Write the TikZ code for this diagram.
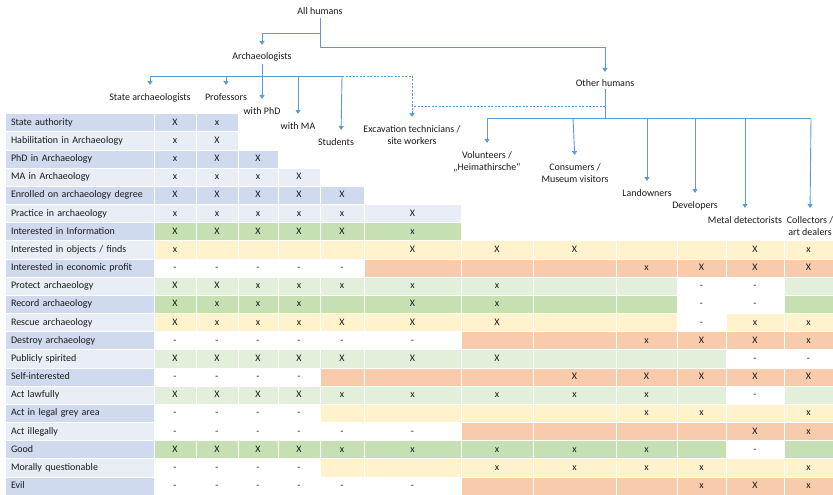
\documentclass[tikz,border=0pt]{standalone}
\usepackage{fontspec}
\setmainfont{Carlito}
\usetikzlibrary{arrows.meta}
\definecolor{lineblue}{HTML}{5B9BD5}
\definecolor{txt}{HTML}{1A1A1A}
\definecolor{bd}{HTML}{CFDAEE}
\definecolor{bl}{HTML}{E8EDF6}
\definecolor{gm}{HTML}{C6E0B4}
\definecolor{gl}{HTML}{E2EFDA}
\definecolor{yl}{HTML}{FFF2CC}
\definecolor{sa}{HTML}{F8CBAD}
\definecolor{wh}{HTML}{FFFFFF}
\begin{document}
\begin{tikzpicture}[x=1pt,y=-1pt,
  every node/.style={font=\fontsize{10}{12}\selectfont, text=txt},
  ln/.style={draw=lineblue, line width=0.9pt},
  arr/.style={ln, -{Triangle[length=4pt,width=5pt]}, shorten >=7pt},
  dsh/.style={dash pattern=on 2pt off 1.5pt},
  tn/.style={anchor=north, inner sep=1pt, align=center},
  cell/.style={draw=white, line width=0.8pt, inner sep=0pt, outer sep=0pt,
    minimum height=18.17pt, text height=7pt, text depth=2pt, anchor=center},
]
\useasboundingbox (0,0) rectangle (833,495);
\def\colx{{5,154,196,238,278,320,364,461,533,616,677,726,784,833}}
% ---------- table ----------
\foreach \r/\lab/\cells in {%
0/State authority/{bd/X,bd/x},%
1/Habilitation in Archaeology/{bl/x,bl/X},%
2/PhD in Archaeology/{bd/x,bd/X,bd/X},%
3/MA in Archaeology/{bl/x,bl/x,bl/x,bl/X},%
4/Enrolled on archaeology degree/{bd/X,bd/X,bd/X,bd/X,bd/X},%
5/Practice in archaeology/{bl/x,bl/x,bl/x,bl/x,bl/x,bl/X},%
6/Interested in Information/{gm/X,gm/X,gm/X,gm/X,gm/X,gm/x},%
7/{Interested in objects / finds}/{yl/x,yl/{},yl/{},yl/{},yl/{},yl/X,yl/X,yl/X,yl/{},yl/{},yl/X,yl/x},%
8/Interested in economic profit/{wh/-,wh/-,wh/-,wh/-,wh/-,sa/{},sa/{},sa/{},sa/x,sa/X,sa/X,sa/X},%
9/Protect archaeology/{gl/X,gl/X,gl/x,gl/x,gl/x,gl/x,gl/x,gl/{},gl/{},wh/-,wh/-,gl/{}},%
10/Record archaeology/{gm/X,gm/x,gm/x,gm/x,gm/{},gm/X,gm/x,gm/{},gm/{},wh/-,wh/-,gm/{}},%
11/Rescue archaeology/{yl/X,yl/x,yl/x,yl/x,yl/X,yl/X,yl/X,yl/{},yl/{},wh/-,yl/x,yl/x},%
12/Destroy archaeology/{wh/-,wh/-,wh/-,wh/-,wh/-,wh/-,sa/{},sa/{},sa/x,sa/X,sa/X,sa/x},%
13/Publicly spirited/{gl/X,gl/X,gl/X,gl/X,gl/X,gl/X,gl/X,gl/{},gl/{},gl/{},wh/-,wh/-},%
14/Self-interested/{wh/-,wh/-,wh/-,wh/-,sa/{},sa/{},sa/{},sa/X,sa/X,sa/X,sa/X,sa/X},%
15/Act lawfully/{gl/X,gl/X,gl/X,gl/X,gl/x,gl/x,gl/x,gl/x,gl/x,gl/{},wh/-,gl/{}},%
16/Act in legal grey area/{wh/-,wh/-,wh/-,wh/-,yl/{},yl/{},yl/{},yl/{},yl/x,yl/x,yl/{},yl/x},%
17/Act illegally/{wh/-,wh/-,wh/-,wh/-,wh/-,wh/-,sa/{},sa/{},sa/{},sa/{},sa/X,sa/x},%
18/Good/{gm/X,gm/X,gm/X,gm/X,gm/x,gm/x,gm/x,gm/x,gm/x,gm/{},wh/-,gm/{}},%
19/Morally questionable/{wh/-,wh/-,wh/-,wh/-,yl/{},yl/{},yl/x,yl/x,yl/x,yl/x,yl/{},yl/x},%
20/Evil/{wh/-,wh/-,wh/-,wh/-,wh/-,wh/-,sa/{},sa/{},sa/{},sa/x,sa/X,sa/x}}{%
  \pgfmathsetmacro\yc{113.6+(\r+0.5)*18.17}
  \pgfmathtruncatemacro\odd{mod(\r,2)}
  \ifnum\odd=0 \def\lf{bd}\else\def\lf{bl}\fi
  \node[cell, fill=\lf, minimum width=149pt, text width=137pt, inner xsep=6pt, align=left] (lab\r) at (79.5,\yc) {\lab};
  \foreach \cc/\txt [count=\c] in \cells {
    \pgfmathsetmacro\xa{\colx[\c]}
    \pgfmathsetmacro\xb{\colx[\c+1]}
    \pgfmathsetmacro\w{\xb-\xa}
    \node[cell, fill=\cc, minimum width=\w pt] (c\r-\c) at ({(\xa+\xb)/2},\yc) {\txt};
  }
}
% ---------- tree nodes ----------
\node[tn] (ah) at (320,6) {All humans};
\node[tn] (arch) at (262,51) {Archaeologists};
\node[tn] (oh) at (605,78) {Other humans};
\node[tn] (sta) at (150,92) {State archaeologists};
\node[tn] (prof) at (226,92) {Professors};
\node[tn] (phd) at (262,106) {with PhD};
\node[tn] (ma) at (298,121) {with MA};
\node[tn] (stu) at (336,137) {Students};
\node[tn] (exc) at (412,124) {Excavation technicians /\\site workers};
\node[tn] (vol) at (487,150) {Volunteers /\\„Heimathirsche“};
\node[tn] (con) at (575,162) {Consumers /\\Museum visitors};
\node[tn] (land) at (647,188) {Landowners};
\node[tn] (dev) at (695,200) {Developers};
\node[tn] (met) at (745,215) {Metal detectorists};
\node[tn] (coll) at (810,215) {Collectors /\\art dealers};
% ---------- junctions ----------
\coordinate (t1) at (320,33);
\coordinate (t2) at (320,47);
\coordinate (ab) at (262,76);
\coordinate (abL) at (150,76);
\coordinate (abP) at (226,76);
\coordinate (abM) at (298,76);
\coordinate (abR) at (342,76);
\coordinate (d1) at (605,106);
\coordinate (d2) at (412,106);
\coordinate (ob) at (605,118);
\coordinate (obL) at (487,118);
\coordinate (obC) at (573,118);
\coordinate (obD) at (695,118);
\coordinate (obR) at (811,118);
% ---------- connectors ----------
\draw[arr, shorten <=3pt, shorten >=6pt] (ah.south) -- (t2) -| (oh.north);
\draw[arr, shorten >=6pt] (t1) -| (arch.north);
\draw[ln, shorten <=2pt] (arch.south) -- (ab);
\draw[ln] (abL) -- (abR);
\draw[arr] (abL) -- (sta.north);
\draw[arr] (abP) -- (prof.north);
\draw[arr] (ab) -- (phd.north);
\draw[arr] (abM) -- (ma.north);
\draw[arr] (abR) -- ([xshift=5pt]stu.north);
\draw[arr, dsh] (abR) -| (exc.north);
\draw[ln, dsh] (d1) -- (d2);
\draw[ln, shorten <=2pt] (oh.south) -- (ob);
\draw[ln] (obL) -- (obR);
\draw[arr] (obL) -- (vol.north);
\draw[arr] (obC) -- (con.north);
\draw[arr] (land.north |- ob) -- (land.north);
\draw[arr] (obD) -- (dev.north);
\draw[arr] (met.north |- ob) -- (met.north);
\draw[arr] (obR) -- (coll.north);
\end{tikzpicture}
\end{document}
